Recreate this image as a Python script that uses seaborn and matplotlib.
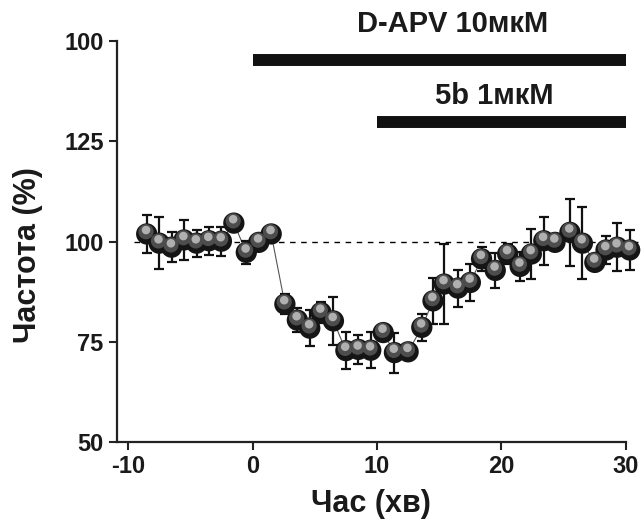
import numpy as np
import pandas as pd
import matplotlib
matplotlib.use("Agg")
import matplotlib.pyplot as plt
import matplotlib.transforms as mtransforms
import seaborn as sns

# Time points (min) and mean frequency (% of baseline)
time_min = [-8.5, -7.5, -6.5, -5.5, -4.5, -3.5, -2.5, -1.5, -0.5, 0.5,
            1.5, 2.6, 3.6, 4.6, 5.5, 6.5, 7.5, 8.5, 9.5, 10.5,
            11.4, 12.5, 13.6, 14.5, 15.4, 16.5, 17.5, 18.4, 19.5, 20.5,
            21.5, 22.4, 23.4, 24.3, 25.5, 26.5, 27.5, 28.4, 29.3, 30.3]
freq_pct = [101.9, 99.6, 98.6, 100.4, 99.6, 100.2, 100.1, 104.6, 97.3, 99.8,
            101.9, 84.4, 80.4, 78.4, 82.3, 80.2, 72.8, 73.1, 72.9, 77.3,
            72.3, 72.5, 78.6, 85.2, 89.4, 88.4, 89.8, 95.7, 92.8, 96.9,
            93.8, 96.9, 100.2, 99.8, 102.3, 99.6, 94.8, 97.9, 98.6, 97.9]
sem_pct = [4.7, 6.5, 3.8, 5.0, 3.4, 3.5, 3.6, 1.0, 2.8, 1.5,
           1.0, 2.5, 3.0, 4.5, 2.5, 6.0, 4.6, 3.6, 4.5, 1.5,
           5.0, 1.5, 3.4, 5.7, 10.0, 4.6, 4.6, 3.0, 4.3, 2.5,
           3.7, 6.3, 6.0, 1.5, 8.3, 9.0, 1.5, 3.5, 6.0, 5.0]

# Drug application bars
bar_labels = ["D-APV 10мкМ", "5b 1мкМ"]
bar_start = [0, 10]
bar_end = [30, 30]
bar_level = [145.3, 129.8]

x_ticks = [-10, 0, 10, 20, 30]
y_ticks = [50, 75, 100, 125, 150]
y_tick_labels = ["50", "75", "100", "125", "100"]

df = pd.DataFrame({"time": time_min, "freq": freq_pct, "sem": sem_pct})

sns.set_style("ticks")
plt.rcParams["font.family"] = ["Liberation Sans", "DejaVu Sans"]
plt.rcParams["font.weight"] = "bold"
plt.rcParams["axes.unicode_minus"] = False

fig = plt.figure(figsize=(6.42, 5.24), dpi=100)
ax = fig.add_axes([0.182, 0.1565, 0.793, 0.765])

# baseline
ax.plot([-9.5, 31], [100, 100], ls=(0, (4, 4)), color="black", lw=1, zorder=1, clip_on=False)

# thin connecting line + error bars
sns.lineplot(data=df, x="time", y="freq", color="#555555", lw=0.8, ax=ax, zorder=2,
             estimator=None, sort=False)
ax.errorbar(df["time"], df["freq"], yerr=df["sem"], fmt="none", ecolor="#111111",
            elinewidth=1.6, capsize=3.5, capthick=1.6, zorder=3, clip_on=False)

# shaded "sphere" markers: dark body, grey middle, light highlight
sns.scatterplot(data=df, x="time", y="freq", s=235, color="#151515", edgecolor="none",
                ax=ax, zorder=4, clip_on=False)
shift = mtransforms.ScaledTranslation(-0.5 / 72, 1.6 / 72, fig.dpi_scale_trans)
sns.scatterplot(data=df, x="time", y="freq", s=120, color="#4d4d4d", edgecolor="none",
                ax=ax, zorder=5, clip_on=False, transform=ax.transData + shift)
shift2 = mtransforms.ScaledTranslation(-0.5 / 72, 2.8 / 72, fig.dpi_scale_trans)
sns.scatterplot(data=df, x="time", y="freq", s=38, color="#b0b0b0", edgecolor="none",
                ax=ax, zorder=6, clip_on=False, transform=ax.transData + shift2)

# drug bars and labels
for lab, x0, x1, lev in zip(bar_labels, bar_start, bar_end, bar_level):
    ax.plot([x0, x1], [lev, lev], color="#111111", lw=8.6, solid_capstyle="butt", clip_on=False)
ax.text(16.1, 154.2, bar_labels[0], ha="center", va="center", fontsize=21, fontweight="bold",
        color="#1a1a1a", clip_on=False)
ax.text(19.4, 136.2, bar_labels[1], ha="center", va="center", fontsize=21, fontweight="bold",
        color="#1a1a1a", clip_on=False)

ax.set_xlim(-10.9, 30)
ax.set_ylim(50, 150)
ax.set_xticks(x_ticks)
ax.set_yticks(y_ticks)
ax.set_yticklabels(y_tick_labels)
ax.tick_params(axis="both", labelsize=17, width=1.5, length=6, color="#222222",
               labelcolor="#1a1a1a")
for lbl in ax.get_xticklabels() + ax.get_yticklabels():
    lbl.set_fontweight("bold")
ax.set_xlabel("Час (хв)", fontsize=22, fontweight="bold", color="#1a1a1a", labelpad=8)
ax.set_ylabel("Частота (%)", fontsize=22, fontweight="bold", color="#1a1a1a")
ax.yaxis.label.set_verticalalignment("center")
ax.yaxis.set_label_coords(-0.175, 0.466)

sns.despine(ax=ax)
for side in ["left", "bottom"]:
    ax.spines[side].set_linewidth(1.6)
    ax.spines[side].set_color("#222222")

fig.savefig("out.png", dpi=100)
